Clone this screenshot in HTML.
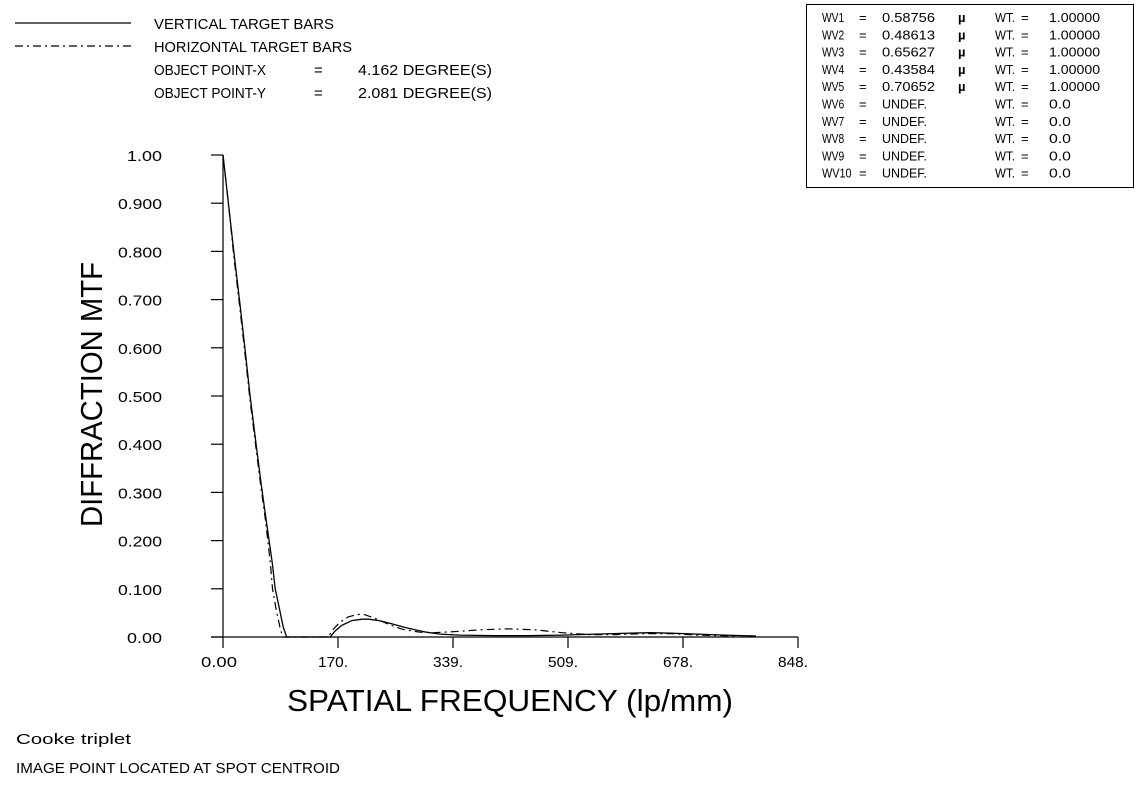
<!DOCTYPE html>
<html><head><meta charset="utf-8"><style>
html,body{margin:0;padding:0;background:#fff}
svg text{font-family:"Liberation Sans",sans-serif;fill:#000}
</style></head><body>
<svg id="chart" width="1141" height="787" viewBox="0 0 1141 787" xmlns="http://www.w3.org/2000/svg">
<g font-size="15">
<line x1="15" y1="23" x2="131" y2="23" stroke="#000" stroke-width="1.2"/>
<line x1="15" y1="46" x2="131" y2="46" stroke="#000" stroke-width="1.2" stroke-dasharray="8,4,2,4"/>
<text x="154" y="29" textLength="180" lengthAdjust="spacingAndGlyphs">VERTICAL TARGET BARS</text>
<text x="154" y="52" textLength="198" lengthAdjust="spacingAndGlyphs">HORIZONTAL TARGET BARS</text>
<text x="154" y="75" textLength="112" lengthAdjust="spacingAndGlyphs">OBJECT POINT-X</text>
<text x="314" y="75">=</text>
<text x="358" y="75" textLength="134" lengthAdjust="spacingAndGlyphs">4.162 DEGREE(S)</text>
<text x="154" y="98" textLength="112" lengthAdjust="spacingAndGlyphs">OBJECT POINT-Y</text>
<text x="314" y="98">=</text>
<text x="358" y="98" textLength="134" lengthAdjust="spacingAndGlyphs">2.081 DEGREE(S)</text>
</g>
<rect x="806.5" y="4.5" width="327" height="183" fill="none" stroke="#000" stroke-width="1"/>
<g id="wvbox" font-size="13"></g>
<g id="axes"></g>
<g id="series"></g>
<text transform="translate(102,527) rotate(-90)" font-size="31" textLength="265" lengthAdjust="spacingAndGlyphs">DIFFRACTION MTF</text>
<text x="287" y="711" font-size="31" textLength="446" lengthAdjust="spacingAndGlyphs">SPATIAL FREQUENCY (lp/mm)</text>
<text x="16" y="744" font-size="15" textLength="115" lengthAdjust="spacingAndGlyphs">Cooke triplet</text>
<text x="16" y="773" font-size="15" textLength="324" lengthAdjust="spacingAndGlyphs">IMAGE POINT LOCATED AT SPOT CENTROID</text>
</svg>
<script>
const wvNames=["WV1","WV2","WV3","WV4","WV5","WV6","WV7","WV8","WV9","WV10"];
const wvValues=["0.58756","0.48613","0.65627","0.43584","0.70652","UNDEF.","UNDEF.","UNDEF.","UNDEF.","UNDEF."];
const wvWeights=["1.00000","1.00000","1.00000","1.00000","1.00000","0.0","0.0","0.0","0.0","0.0"];
const xTicks=[0,169.6,339.2,508.8,678.4,848];
const xTickLabels=["0.00","170.","339.","509.","678.","848."];
const yTicks=[0,0.1,0.2,0.3,0.4,0.5,0.6,0.7,0.8,0.9,1.0];
const yTickLabels=["0.00","0.100","0.200","0.300","0.400","0.500","0.600","0.700","0.800","0.900","1.00"];
const vertFreq=[0,8,16,25,33,40,48,56,62,68,73,77,83,89,94,158,165,175,190,205,215,230,250,270,300,320,350,400,450,500,550,600,630,660,700,740,786];
const vertMTF=[1.0,0.90,0.80,0.69,0.59,0.50,0.41,0.32,0.26,0.20,0.15,0.10,0.06,0.02,0,0,0.012,0.024,0.034,0.037,0.037,0.034,0.027,0.019,0.010,0.006,0.004,0.003,0.003,0.004,0.006,0.008,0.009,0.008,0.006,0.004,0.002];
const horFreq=[0,8,16,25,33,40,48,56,62,66,70,73,78,84,88,155,162,172,185,200,210,225,245,265,290,310,340,380,420,460,500,540,580,620,660,700,760];
const horMTF=[1.0,0.90,0.79,0.68,0.58,0.49,0.40,0.31,0.25,0.20,0.15,0.10,0.06,0.02,0,0,0.015,0.030,0.042,0.047,0.046,0.038,0.026,0.016,0.010,0.009,0.011,0.015,0.017,0.015,0.009,0.005,0.005,0.007,0.007,0.004,0.002];

const NS="http://www.w3.org/2000/svg";
const X0=223,X1=798,Y0=637,Y1=155;
function xs(v){return X0+(v/848)*(X1-X0);}
function ys(v){return Y0-v*(Y0-Y1);}
function mk(tag,attrs,parent){const e=document.createElementNS(NS,tag);for(const k in attrs)e.setAttribute(k,attrs[k]);parent.appendChild(e);return e;}

const box=document.getElementById('wvbox');
for(let i=0;i<wvNames.length;i++){
  const y=22+i*17.3;
  const row=mk('g',{},box);
  
  
  mk('text',{x:822,y:y,textLength:wvNames[i].length*7.4,lengthAdjust:'spacingAndGlyphs'},row).textContent=wvNames[i];
  mk('text',{x:859,y:y},row).textContent="=";
  mk('text',{x:882,y:y,textLength:wvValues[i].length===7?53:45,lengthAdjust:'spacingAndGlyphs'},row).textContent=wvValues[i];
  if(wvValues[i]!=="UNDEF.") mk('text',{x:958,y:y,'font-weight':'bold'},row).textContent="\u00b5";
  mk('text',{x:995,y:y,textLength:20,lengthAdjust:'spacingAndGlyphs'},row).textContent="WT.";
  mk('text',{x:1021,y:y},row).textContent="=";
  mk('text',{x:1049,y:y,textLength:wvWeights[i].length*7.3,lengthAdjust:'spacingAndGlyphs'},row).textContent=wvWeights[i];
}

const ax=document.getElementById('axes');
const yl=mk('line',{x1:X0,y1:Y1,x2:X0,y2:Y0,stroke:'#000','stroke-width':1.2},ax);


const xl=mk('line',{x1:211,y1:Y0,x2:X1,y2:Y0,stroke:'#000','stroke-width':1.2},ax);


yTicks.forEach((v,i)=>{
  const t=mk('line',{x1:211,y1:ys(v),x2:X0,y2:ys(v),stroke:'#000','stroke-width':1.2},ax);
  
  
  const w=yTickLabels[i].length===5?44:35;
  const l=mk('text',{x:162-w,y:ys(v)+6,'font-size':15,textLength:w,lengthAdjust:'spacingAndGlyphs'},ax);
  
  
  l.textContent=yTickLabels[i];
});
xTicks.forEach((v,i)=>{
  const t=mk('line',{x1:xs(v),y1:Y0,x2:xs(v),y2:Y0+11,stroke:'#000','stroke-width':1.2},ax);
  
  
  const w=i===0?36:30;
  const l=mk('text',{x:xs(v)-(i===0?22:20),y:Y0+30,'font-size':15,textLength:w,lengthAdjust:'spacingAndGlyphs'},ax);
  
  
  l.textContent=xTickLabels[i];
});

const ser=document.getElementById('series');
function pts(f,m){return f.map((v,i)=>xs(v).toFixed(1)+','+ys(m[i]).toFixed(1)).join(' ');}
const p1=mk('polyline',{points:pts(vertFreq,vertMTF),fill:'none',stroke:'#000','stroke-width':1.3},ser);


const p2=mk('polyline',{points:pts(horFreq,horMTF),fill:'none',stroke:'#000','stroke-width':1.2,'stroke-dasharray':'8,4,2,4'},ser);


</script>
</body></html>
